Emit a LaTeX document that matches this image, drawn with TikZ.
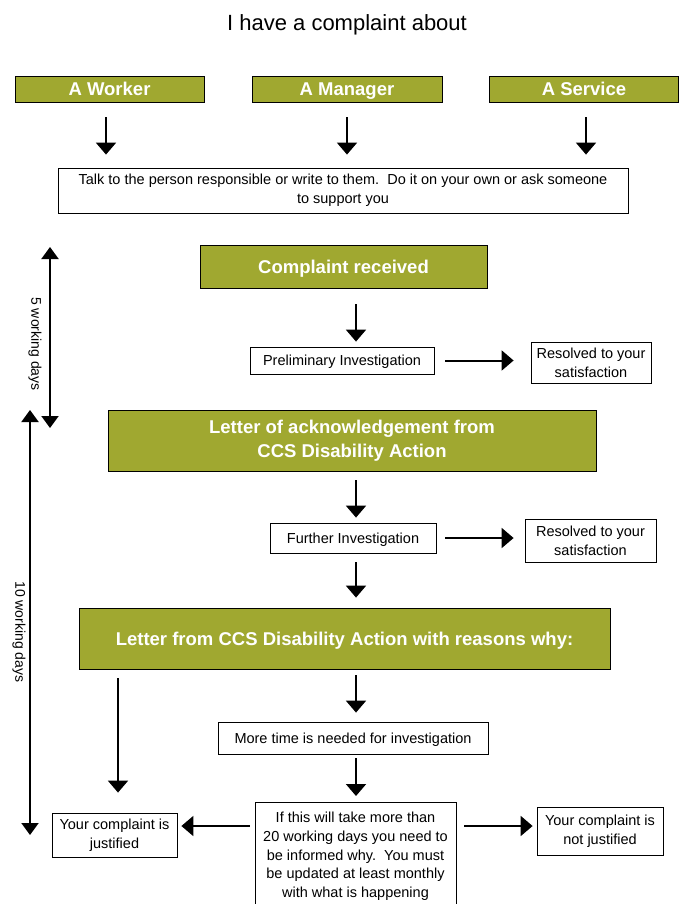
\documentclass[tikz,border=0pt]{standalone}
\usepackage{fontspec}
\setmainfont{Liberation Sans}
\usetikzlibrary{arrows.meta,calc}
\definecolor{olivegreen}{HTML}{A0A830}
\begin{document}
\begin{tikzpicture}[x=1pt,y=-1pt,
  greenbox/.style={fill=olivegreen,draw=black,line width=0.8pt,text=white,
    font=\bfseries\fontsize{18.5}{24}\selectfont,inner sep=0pt,align=center},
  whitebox/.style={draw=black,line width=0.8pt,fill=white,
    font=\fontsize{14.5}{19}\selectfont,inner sep=0pt,align=center},
  greenone/.style={text height=13.3pt,text depth=0pt},
  whiteone/.style={text height=10.4pt,text depth=0pt},
  arr/.style={-{Triangle[length=12pt,width=20pt]},line width=2pt},
  darr/.style={{Triangle[length=12pt,width=17pt]}-{Triangle[length=12pt,width=17pt]},line width=2pt},
  sidelabel/.style={font=\fontsize{14}{16}\selectfont,rotate=-90,inner sep=0pt}]
\clip (0,0) rectangle (682,904);
\fill[white] (0,0) rectangle (682,904);

\node[font=\fontsize{22}{26}\selectfont,anchor=base] (title) at (347,31) {I have a complaint about};

\node[greenbox,greenone,minimum width=189pt,minimum height=26pt] (worker) at (109.5,89) {A Worker};
\node[greenbox,greenone,minimum width=190pt,minimum height=26pt] (manager) at (347,89) {A Manager};
\node[greenbox,greenone,minimum width=189pt,minimum height=26pt] (service) at (584,89) {A Service};

\node[whitebox,minimum width=570pt,minimum height=45pt] (talk) at (343,190.5)
  {Talk to the person responsible or write to them.\ \ Do it on your own or ask someone\\to support you};

\node[greenbox,greenone,minimum width=287pt,minimum height=43pt] (received) at (343.5,266.5) {Complaint received};
\node[whitebox,whiteone,minimum width=184pt,minimum height=27pt] (prelim) at (342,360.5) {Preliminary Investigation};
\node[whitebox,minimum width=120pt,minimum height=41pt] (res1) at (591,362.5) {Resolved to your\\satisfaction};

\node[greenbox,minimum width=488pt,minimum height=61pt] (ack) at (352,440.5)
  {Letter of acknowledgement from\\CCS Disability Action};
\node[whitebox,whiteone,minimum width=166pt,minimum height=30pt] (further) at (353,538) {Further Investigation};
\node[whitebox,minimum width=131pt,minimum height=43pt] (res2) at (590.5,540.5) {Resolved to your\\satisfaction};

\node[greenbox,greenone,minimum width=531pt,minimum height=61pt] (letter) at (344.5,638.5)
  {Letter from CCS Disability Action with reasons why:};

\node[whitebox,whiteone,minimum width=270pt,minimum height=32pt] (moretime) at (353,738) {More time is needed for investigation};
\node[whitebox,minimum width=201pt,minimum height=115pt,anchor=north] (ifthis) at (355.5,802) {};
\node[font=\fontsize{14.5}{18.7}\selectfont,align=center,inner sep=0pt,anchor=north] (ifthistext) at (355.5,812)
  {If this will take more than\\20 working days you need to\\be informed why.\ \ You must\\be updated at least monthly\\with what is happening};
\node[whitebox,minimum width=125pt,minimum height=44pt] (justified) at (114.5,835) {Your complaint is\\justified};
\node[whitebox,minimum width=126pt,minimum height=48pt] (notjust) at (600,831) {Your complaint is\\not justified};

% arrows top
\draw[arr] ([xshift=-3.5pt,yshift=-15pt]worker.south) -- ([yshift=13pt]talk.north -| 106,0);
\draw[arr] ([yshift=-15pt]manager.south) -- ([yshift=13pt]talk.north -| manager.south);
\draw[arr] ([xshift=2pt,yshift=-15pt]service.south) -- ([yshift=13pt]talk.north -| 586,0);

\draw[arr] ([xshift=12.5pt,yshift=-16pt]received.south) -- ([xshift=14pt,yshift=5pt]prelim.north);
\draw[arr] ([xshift=11pt]prelim.east) -- ($(res1.west |- prelim.east)+(-17,0)$);

\draw[arr] ([xshift=4pt,yshift=-9pt]ack.south) -- ([xshift=3pt,yshift=5pt]further.north);
\draw[arr] ([xshift=9pt]further.east) -- ($(res2.west |- further.east)+(-11,0)$);
\draw[arr] ([xshift=3pt,yshift=-9pt]further.south) -- ([xshift=11.5pt,yshift=10pt]letter.north);

\draw[arr] ($(letter.south -| justified.north)+(3.5,9)$) -- ([xshift=3.5pt,yshift=20pt]justified.north);
\draw[arr] ([xshift=11.5pt,yshift=-6pt]letter.south) -- ([xshift=3pt,yshift=9pt]moretime.north);
\draw[arr] ([xshift=3pt,yshift=-4pt]moretime.south) -- ([xshift=0.5pt,yshift=6pt]ifthis.north);

\draw[arr] ($(ifthis.west |- 0,826)+(-5,0)$) -- ($(justified.east |- 0,826)+(4,0)$);
\draw[arr] ($(ifthis.east |- 0,826)+(8,0)$) -- ($(notjust.west |- 0,826)+(-4,0)$);

% side timelines
\coordinate (fivetop) at (50,247);
\coordinate (fivebot) at (50,428);
\draw[darr] (fivetop) -- (fivebot);
\node[sidelabel] (five) at (35,344) {5 working days};
\coordinate (tentop) at (30,410);
\coordinate (tenbot) at (30,835);
\draw[darr] (tentop) -- (tenbot);
\node[sidelabel] (ten) at (19,632) {10 working days};
\end{tikzpicture}
\end{document}
